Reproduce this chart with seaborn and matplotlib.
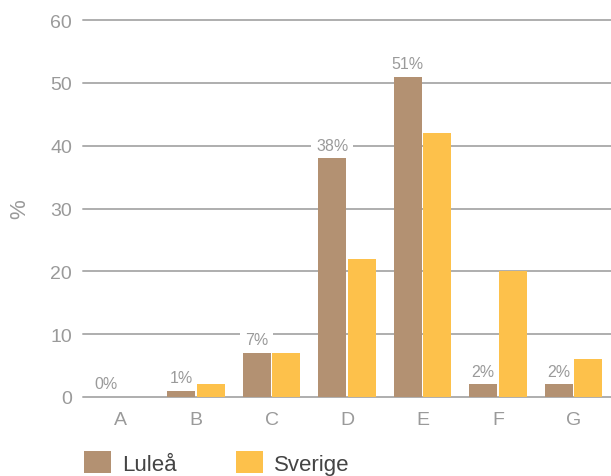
import matplotlib
matplotlib.use("Agg")
import matplotlib.pyplot as plt
import seaborn as sns
import pandas as pd
from matplotlib.patches import Patch

# Andel per kategori (%)
categories = ["A", "B", "C", "D", "E", "F", "G"]
lulea = [0, 1, 7, 38, 51, 2, 2]
sverige = [0, 2, 7, 22, 42, 20, 6]
series_names = ["Luleå", "Sverige"]
yticks = [0, 10, 20, 30, 40, 50, 60]

palette = {"Luleå": "#B39172", "Sverige": "#FDC14B"}
grey = "#9A9A9A"
grid_grey = "#AEAEAE"

df = pd.DataFrame({
    "kategori": categories * 2,
    "andel": lulea + sverige,
    "serie": [series_names[0]] * len(categories) + [series_names[1]] * len(categories),
})

sns.set_theme(style="white")
plt.rcParams["font.family"] = ["Liberation Sans", "DejaVu Sans"]

fig = plt.figure(figsize=(6.11, 4.77), dpi=100)
ax = fig.add_axes([83 / 611, 1 - 398 / 477, 1 - 83 / 611, (398 - 21) / 477])

sns.barplot(data=df, x="kategori", y="andel", hue="serie",
            order=categories, hue_order=series_names, palette=palette,
            width=0.78, gap=0.05, saturation=1, legend=False, ax=ax,
            linewidth=0)

ax.set_xlim(-0.5, len(categories) - 0.5)
ax.set_ylim(0, 60)
ax.set_yticks(yticks)
ax.set_axisbelow(True)
ax.grid(axis="y", color=grid_grey, linewidth=1.4)
ax.grid(axis="x", visible=False)
for s in ax.spines.values():
    s.set_visible(False)
for gl in ax.get_ygridlines():
    gl.set_clip_on(False)

ax.tick_params(axis="both", length=0, labelsize=14, labelcolor=grey)
ax.tick_params(axis="x", pad=10)
ax.tick_params(axis="y", pad=8)
ax.set_xlabel("")
ax.set_ylabel("%", color=grey, fontsize=16, labelpad=14)

# Procentetiketter ovanför Luleå-staplarna; den vita rutan bryter
# stödlinjerna men ligger under staplarna
for bar, v in zip(ax.containers[0], lulea):
    xc = bar.get_x() + bar.get_width() / 2
    ax.annotate(f"{v}%", xy=(xc, v), xytext=(0, 4), textcoords="offset points",
                ha="center", va="bottom", fontsize=11.5, color=grey,
                bbox=dict(boxstyle="square,pad=0.3", fc="white", ec="none"),
                zorder=0.9)

handles = [Patch(facecolor=palette[n], edgecolor="none", label=n) for n in series_names]
leg = fig.legend(handles=handles, loc="upper left",
                 bbox_to_anchor=(84 / 611, 1 - 452 / 477), ncol=2, frameon=False,
                 fontsize=16, handlelength=1.2, handleheight=1.15,
                 handletextpad=0.5, columnspacing=2.7, borderpad=0,
                 borderaxespad=0)
for t in leg.get_texts():
    t.set_color("#444444")

fig.savefig("out.png", dpi=100)
